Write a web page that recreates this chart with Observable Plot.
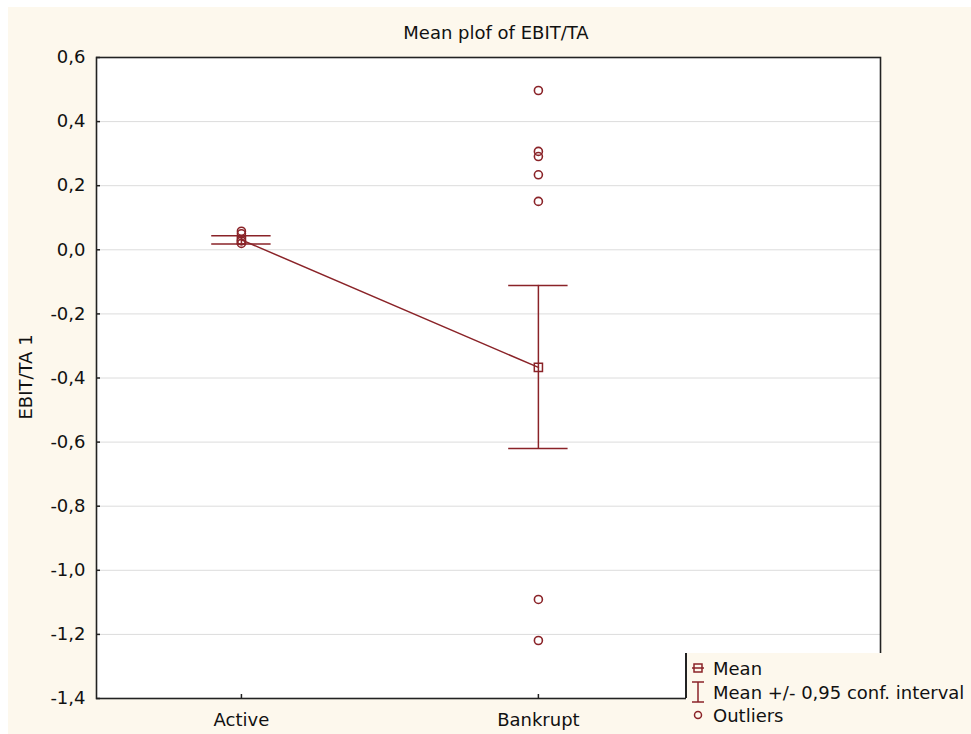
<!DOCTYPE html>
<html><head><meta charset="utf-8">
<script src="https://cdn.jsdelivr.net/npm/d3@7"></script>
<script src="https://cdn.jsdelivr.net/npm/@observablehq/plot@0.6"></script>
<style>
body{margin:0;background:#fff;}
#wrap{position:relative;width:971px;height:734px;overflow:hidden;font-family:"DejaVu Sans",sans-serif;color:#111;}
#bg{position:absolute;left:8px;top:7px;right:0;bottom:0;background:#fdf8ed;}
#chart{position:absolute;left:0;top:0;}
.t{position:absolute;font-size:18px;white-space:nowrap;line-height:1;}
#legend{position:absolute;left:686px;top:653px;right:0;bottom:0;background:#fdf8ed;}
#legline{position:absolute;left:685px;top:653px;width:1.5px;height:45px;background:#222;}
#legend .row{position:absolute;left:0;height:20px;display:flex;align-items:center;}
#legend svg{width:24px;height:24px;margin-right:3px;}
</style>
</head><body>
<div id="wrap">
  <div id="bg"></div>
  <div id="chart"></div>
  <div class="t" id="title"></div>
  <div class="t" id="ylab"></div>
  <div id="legend"></div>
  <div id="legline"></div>
</div>
<script>
// ---- data ----
const groups = ["Active", "Bankrupt"];
const means = [0.031, -0.367];
const ciLow = [0.018, -0.620];
const ciHigh = [0.044, -0.111];
const outlierGroup = ["Active", "Active", "Active", "Active", "Bankrupt", "Bankrupt", "Bankrupt", "Bankrupt", "Bankrupt", "Bankrupt", "Bankrupt"];
const outlierValue = [0.058, 0.050, 0.028, 0.020, 0.497, 0.307, 0.291, 0.234, 0.151, -1.091, -1.219];
const yTicks = [-1.4, -1.2, -1.0, -0.8, -0.6, -0.4, -0.2, 0.0, 0.2, 0.4, 0.6];
const titleText = "Mean plof of EBIT/TA";
const yLabel = "EBIT/TA 1";
const legendLabels = ["Mean", "Mean +/- 0,95 conf. interval", "Outliers"];

// ---- build ----
const red = "#8a2328";
const rows = groups.map((g, i) => ({i, g, mean: means[i], lo: ciLow[i], hi: ciHigh[i]}));
const outliers = outlierGroup.map((g, k) => ({i: groups.indexOf(g), v: outlierValue[k]}));
const cap = 0.1;
const fmt = d => d.toFixed(1).replace(".", ",");

const chart = Plot.plot({
  width: 971, height: 734,
  marginLeft: 96, marginRight: 91, marginTop: 57, marginBottom: 36,
  style: {background: "transparent", fontFamily: "DejaVu Sans, sans-serif", fontSize: "18px", color: "#111"},
  x: {type: "linear", domain: [-0.488, 2.152]},
  y: {domain: [-1.4, 0.6]},
  marks: [
    Plot.frame({fill: "white", stroke: null}),
    Plot.gridY(yTicks, {stroke: "#dcdcdc", strokeOpacity: 1}),
    Plot.axisY(yTicks, {tickFormat: fmt, tickSize: -4, tickPadding: 15, label: null, stroke: "#222", strokeWidth: 1.5}),
    Plot.axisX([0, 1], {tickFormat: i => groups[i], tickSize: -4, tickPadding: 19, label: null, stroke: "#222", strokeWidth: 1.5}),
    Plot.frame({stroke: "#222", strokeWidth: 1.6}),
    Plot.line(rows, {x: "i", y: "mean", stroke: red, strokeWidth: 1.5}),
    Plot.ruleX(rows, {x: "i", y1: "lo", y2: "hi", stroke: red, strokeWidth: 1.5}),
    Plot.ruleY(rows, {y: "hi", x1: d => d.i - cap, x2: d => d.i + cap, stroke: red, strokeWidth: 1.5}),
    Plot.ruleY(rows, {y: "lo", x1: d => d.i - cap, x2: d => d.i + cap, stroke: red, strokeWidth: 1.5}),
    Plot.dot(rows, {x: "i", y: "mean", symbol: "square", r: 4.6, stroke: red, strokeWidth: 1.5, fill: "none"}),
    Plot.dot(outliers, {x: "i", y: "v", r: 4, stroke: red, strokeWidth: 1.6, fill: "none"})
  ]
});
document.getElementById("chart").appendChild(chart);

const title = document.getElementById("title");
title.textContent = titleText;
title.style.left = "496px"; title.style.top = "33px";
title.style.transform = "translate(-50%,-50%)";

const yl = document.getElementById("ylab");
yl.textContent = yLabel;
yl.style.left = "26px"; yl.style.top = "377px";
yl.style.transform = "translate(-50%,-50%) rotate(-90deg)";

const legend = document.getElementById("legend");
const icons = [
  `<svg viewBox="0 0 24 24"><rect x="8" y="8" width="8" height="8" fill="none" stroke="${red}" stroke-width="1.5"/><line x1="6" y1="12" x2="18" y2="12" stroke="${red}" stroke-width="1.5"/></svg>`,
  `<svg viewBox="0 0 24 24"><line x1="12" y1="2" x2="12" y2="22" stroke="${red}" stroke-width="1.5"/><line x1="6" y1="2" x2="18" y2="2" stroke="${red}" stroke-width="1.5"/><line x1="6" y1="22" x2="18" y2="22" stroke="${red}" stroke-width="1.5"/></svg>`,
  `<svg viewBox="0 0 24 24"><circle cx="12" cy="12" r="3.5" fill="none" stroke="${red}" stroke-width="1.5"/></svg>`
];
const tops = [5, 29, 52];
legendLabels.forEach((lab, k) => {
  const r = document.createElement("div");
  r.className = "row";
  r.style.top = tops[k] + "px";
  r.style.left = "0px";
  r.innerHTML = icons[k] + `<span style="font-size:18px">${lab}</span>`;
  legend.appendChild(r);
});
</script>
</body></html>
